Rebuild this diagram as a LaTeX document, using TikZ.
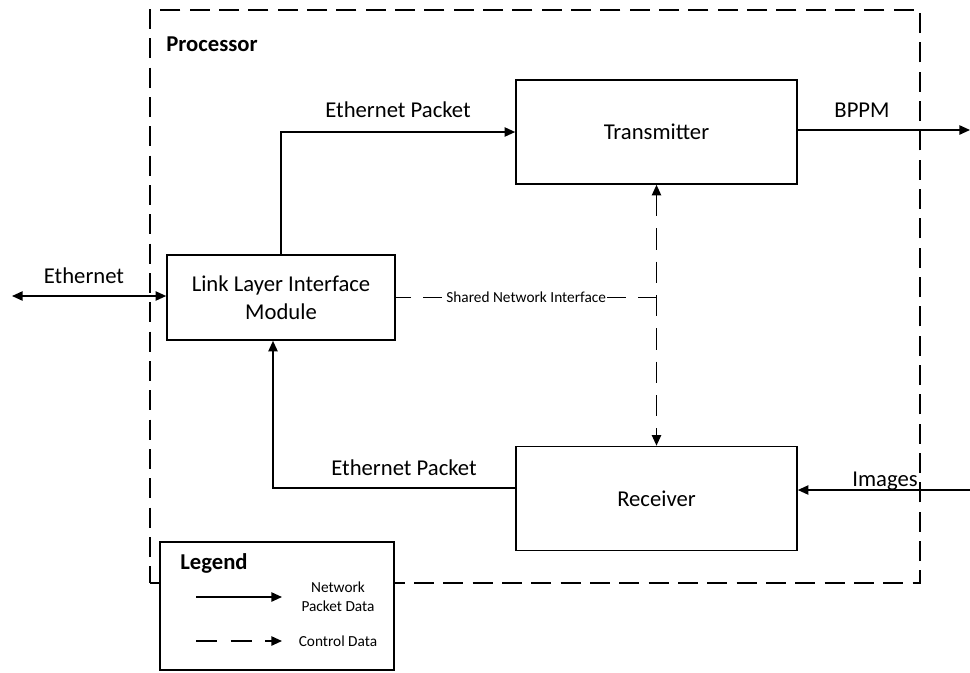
\documentclass[tikz,border=0pt]{standalone}
\usepackage{fontspec}
\setmainfont{Carlito}
\usetikzlibrary{arrows.meta}

\begin{document}
\begin{tikzpicture}[x=0.75pt,y=-0.75pt]
\tikzstyle{lien}=[->,>={Triangle[length=8pt,width=7pt]},line width=1.2pt]
\tikzstyle{ctrl}=[lien,dash pattern=on 16pt off 9pt]
\tikzset{bloc/.style={draw,line width=1.2pt,fill=white,align=center,font=\fontsize{17}{21}\selectfont,minimum width=#1,minimum height=78pt,inner sep=0pt},
bloc/.default={210.75pt}}
\tikzset{texte/.style={font=\fontsize{17}{21}\selectfont,inner sep=0pt},
petit/.style={font=\fontsize{11.5}{14}\selectfont,inner sep=0pt,align=center}}
\useasboundingbox (0,0) rectangle (970,672);

\node[draw,line width=1.2pt,dash pattern=on 15pt off 7pt,minimum width=577.5pt,minimum height=429.75pt] (P) at (535,296.5){};
\node[texte,font=\fontsize{17}{21}\selectfont\bfseries] (P0) at (212,44){Processor};

\node[bloc] (T) at (656.5,132){Transmitter};
\node[bloc] (R) at (656.5,498.5){Receiver};
\node[bloc=171pt,minimum height=63.75pt] (L) at (281,297.5){Link Layer Interface\\Module};

\coordinate (ethW) at (12,296);
\coordinate (bppmE) at (970,130);
\coordinate (imgE) at (970,490);

\draw[lien,<->] (ethW) -- (ethW -| L.west);
\draw[lien] (L.north) |- (T.west);
\draw[lien] (T.east |- bppmE) -- (bppmE);
\draw[lien] (imgE) -- (imgE -| R.east);
\draw[lien] ([yshift=7.9pt]R.west) -| ([xshift=-6pt]L.south);
\draw[ctrl,<->] (T.south) -- (R.north);
\draw[ctrl,-,dash pattern=on 14pt off 9pt] (L.east -| T.south) -- (L.east)
  node[petit,midway,fill=white,inner xsep=0pt] (S) {Shared Network Interface};

\node[texte] (E0) at (84,276){Ethernet};
\node[texte] (E1) at (398,110){Ethernet Packet};
\node[texte] (E2) at (404,468){Ethernet Packet};
\node[texte] (B0) at (862,110){BPPM};
\node[texte] (I0) at (885,481){Images};

% legende
\node[draw,line width=1pt,fill=white,minimum width=175.5pt,minimum height=96pt] (G) at (277,606){};
\node[texte,font=\fontsize{17}{21}\selectfont\bfseries] (G0) at (214,563){Legend};
\coordinate (g1a) at (196,597);
\coordinate (g1b) at (282,597);
\coordinate (g2a) at (196,641);
\coordinate (g2b) at (282,641);
\draw[lien] (g1a) -- (g1b);
\draw[lien,dash pattern=on 16pt off 10pt] (g2a) -- (g2b);
\node[petit] (G1) at (338,597){Network\\Packet Data};
\node[petit] (G2) at (338,641){Control Data};
\end{tikzpicture}
\end{document}
